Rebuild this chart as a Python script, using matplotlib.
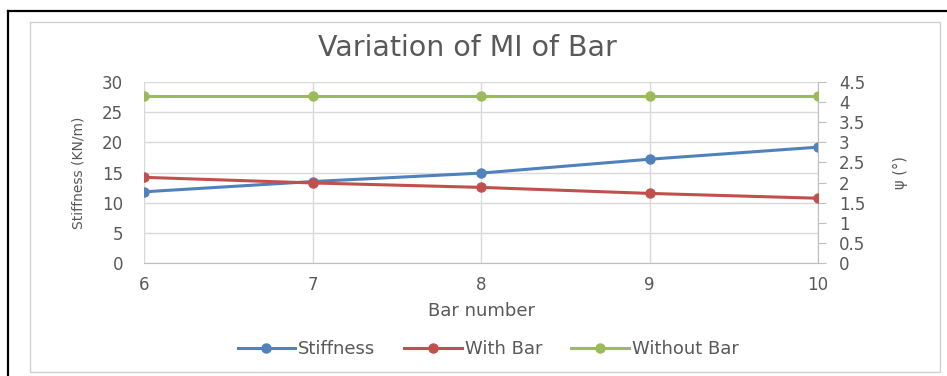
import matplotlib
matplotlib.use("Agg")
import matplotlib.pyplot as plt
from matplotlib.patches import Rectangle
from matplotlib.lines import Line2D

plt.rcParams['font.family'] = ['DejaVu Sans']

bar_number = [6, 7, 8, 9, 10]
stiffness = [11.8, 13.5, 14.9, 17.2, 19.2]
psi_with_bar = [2.13, 1.99, 1.88, 1.73, 1.61]
psi_without_bar = [4.14, 4.14, 4.14, 4.14, 4.14]

left_ticks = [0, 5, 10, 15, 20, 25, 30]
right_ticks = [0, 0.5, 1, 1.5, 2, 2.5, 3, 3.5, 4, 4.5]
right_labels = ['0', '0.5', '1', '1.5', '2', '2.5', '3', '3.5', '4', '4.5']

blue = '#4F81BD'
red = '#C0504D'
green = '#9BBB59'
text_grey = '#595959'
grid_grey = '#D9D9D9'

fig = plt.figure(figsize=(9.47, 3.76), dpi=100)

# outer frame (top and left edges) and chart area border
top_y = 1 - 11/376
left_x = 8/947
fig.add_artist(Line2D([left_x, 1.0], [top_y, top_y], transform=fig.transFigure,
                      color='black', linewidth=1.6))
fig.add_artist(Line2D([left_x, left_x], [0.0, top_y], transform=fig.transFigure,
                      color='black', linewidth=1.6))
fig.patches.append(Rectangle((30/947, 4/376), 910/947, 1 - 22/376 - 4/376, transform=fig.transFigure,
                             fill=False, edgecolor='#D0D0D0', linewidth=1.0))

ax = fig.add_axes([144/947, 1 - 263/376, (818 - 144)/947, (263 - 82)/376])
ax2 = ax.twinx()

ax.plot(bar_number, stiffness, color=blue, linewidth=2.2, marker='o', markersize=6.5, zorder=3)
ax2.plot(bar_number, psi_with_bar, color=red, linewidth=2.2, marker='o', markersize=6.5, zorder=3)
ax2.plot(bar_number, psi_without_bar, color=green, linewidth=2.2, marker='o', markersize=6.5, zorder=3)

ax.set_xlim(6, 10)
ax.set_ylim(0, 30)
ax2.set_ylim(0, 4.5)
ax.set_xticks(bar_number)
ax.set_yticks(left_ticks)
ax2.set_yticks(right_ticks)
ax2.set_yticklabels(right_labels)

ax.grid(True, color=grid_grey, linewidth=1.0)
ax.set_axisbelow(True)

for a in (ax, ax2):
    for s in ('top', 'right', 'left', 'bottom'):
        a.spines[s].set_visible(False)
ax.spines['bottom'].set_visible(True)
ax.spines['bottom'].set_color('#BFBFBF')
ax2.spines['right'].set_visible(True)
ax2.spines['right'].set_color('#BFBFBF')

ax.tick_params(axis='y', length=0, labelsize=12, labelcolor=text_grey, pad=15)
ax.tick_params(axis='x', length=0, labelsize=12, labelcolor=text_grey, pad=9)
ax2.tick_params(axis='y', length=6, color='#BFBFBF', labelsize=12, labelcolor=text_grey, pad=9)

ax.set_xlabel('Bar number', fontsize=13, color=text_grey, labelpad=6)
ax.set_ylabel('Stiffness (KN/m)', fontsize=10, color=text_grey, labelpad=12)
ax2.set_ylabel('ψ (°)', fontsize=10.5, color=text_grey, labelpad=20, rotation=90)

fig.text(467/947, 1 - 48/376, 'Variation of MI of Bar', ha='center', va='center',
         fontsize=20.5, color=text_grey)

handles = [Line2D([], [], color=c, linewidth=2.2, marker='o', markersize=6.5) for c in (blue, red, green)]
fig.legend(handles, ['Stiffness', 'With Bar', 'Without Bar'], loc='center',
           bbox_to_anchor=(488/947, 1 - 349/376), ncol=3, frameon=False, fontsize=13,
           labelcolor=text_grey, handlelength=3.2, handletextpad=0.15, columnspacing=1.6)

fig.savefig('out.png', dpi=100)
